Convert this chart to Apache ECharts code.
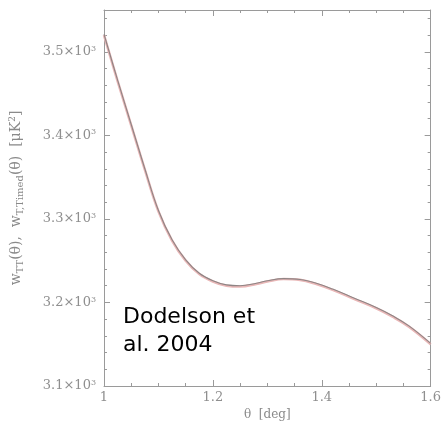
<!DOCTYPE html>
<html>
<head>
<meta charset="utf-8">
<script src="https://cdn.jsdelivr.net/npm/echarts@6/dist/echarts.min.js"></script>
<style>
  html, body { margin: 0; padding: 0; background: #fff; }
  #chart { width: 444px; height: 426px; }
</style>
</head>
<body>
<div id="chart"></div>
<script>
// theta in degrees, correlation in muK^2
var theta = [1.00, 1.025, 1.05, 1.075, 1.10, 1.125, 1.15, 1.175, 1.20, 1.225, 1.25, 1.28, 1.30, 1.33, 1.36, 1.39, 1.42, 1.46, 1.50, 1.53, 1.56, 1.60];
var wTT   = [3521, 3466, 3413, 3360, 3310, 3275, 3251, 3235, 3226, 3221, 3220, 3223, 3226, 3228.5, 3227.5, 3223, 3216, 3205, 3194, 3184, 3172, 3151];
var wTmod = [3520, 3465, 3412, 3359, 3309, 3274, 3250, 3234, 3225, 3220, 3219, 3222, 3225, 3228, 3227, 3222, 3215, 3204, 3193, 3183, 3171, 3150];

var yTicks = [3100, 3200, 3300, 3400, 3500];
var xTicks = [1, 1.2, 1.4, 1.6];

var axisGrey = "#9a9a9a";
var labelFont = "DejaVu Serif";

function pairs(xs, ys) {
  return xs.map(function (x, i) { return [x, ys[i]]; });
}

// bare axis used only for ticks (box frame)
function tickAxis(pos, interval, len, showLine) {
  return {
    type: "value",
    position: pos,
    min: 3100,
    max: 3550,
    interval: interval,
    axisLine: { show: showLine, lineStyle: { color: axisGrey, width: 1 } },
    axisTick: { show: true, inside: true, length: len, lineStyle: { color: axisGrey } },
    axisLabel: { show: false },
    splitLine: { show: false }
  };
}

var chart = echarts.init(document.getElementById("chart"));
var option = {
  animation: false,
  grid: { left: 100, right: 7, top: 10, bottom: 40 },
  xAxis: [
    {
      type: "value",
      position: "bottom",
      min: 1,
      max: 1.6,
      interval: 0.2,
      name: "θ  [deg]",
      nameLocation: "middle",
      nameGap: 22,
      nameTextStyle: { fontFamily: labelFont, fontSize: 12, color: "#8a8a8a" },
      axisLine: { show: true, lineStyle: { color: axisGrey, width: 1 } },
      axisTick: { show: true, inside: true, length: 6, lineStyle: { color: axisGrey } },
      minorTick: { show: true, splitNumber: 4, length: 3, lineStyle: { color: axisGrey } },
      axisLabel: {
        fontFamily: labelFont, fontSize: 13, color: "#8f8f8f", margin: 5,
        formatter: function (v) { return xTicks.indexOf(+v.toFixed(2)) >= 0 ? String(+v.toFixed(1)) : ""; }
      },
      splitLine: { show: false }
    },
    {
      type: "value",
      position: "top",
      min: 1,
      max: 1.6,
      interval: 0.2,
      axisLine: { show: true, lineStyle: { color: axisGrey, width: 1 } },
      axisTick: { show: true, inside: true, length: 6, lineStyle: { color: axisGrey } },
      minorTick: { show: true, splitNumber: 4, length: 3, lineStyle: { color: axisGrey } },
      axisLabel: { show: false },
      splitLine: { show: false }
    }
  ],
  yAxis: [
    {
      type: "value",
      position: "left",
      min: 3100,
      max: 3550,
      interval: 100,
      name: "{n|w}{s|TT}{n|(θ),  w}{s|T,Timed}{n|(θ)  [μK}{p|2}{n|]}",
      nameLocation: "middle",
      nameGap: 79,
      nameTextStyle: {
        rich: {
          n: { fontFamily: labelFont, fontSize: 14, color: "#8a8a8a" },
          s: { fontFamily: labelFont, fontSize: 10, color: "#8a8a8a", verticalAlign: "bottom", padding: [7, 0, 0, 0] },
          p: { fontFamily: labelFont, fontSize: 9, color: "#8a8a8a", verticalAlign: "top" }
        }
      },
      axisLine: { show: true, lineStyle: { color: axisGrey, width: 1 } },
      axisTick: { show: true, inside: true, length: 6, lineStyle: { color: axisGrey } },
      axisLabel: {
        showMaxLabel: false,
        margin: 8,
        formatter: function (v) {
          if (yTicks.indexOf(v) < 0) return "";
          return "{n|" + (v / 1000).toFixed(1) + "×10}{p|3}";
        },
        rich: {
          n: { fontFamily: labelFont, fontSize: 13, color: "#8f8f8f" },
          p: { fontFamily: labelFont, fontSize: 8, color: "#8f8f8f", verticalAlign: "top", padding: [0, 0, 6, 0] }
        }
      },
      splitLine: { show: false }
    },
    tickAxis("left", 20, 3, false),
    tickAxis("right", 20, 3, true),
    tickAxis("right", 100, 6, false)
  ],
  series: [
    {
      name: "w_Timed",
      type: "line",
      xAxisIndex: 0,
      yAxisIndex: 0,
      data: pairs(theta, wTmod),
      smooth: 0.4,
      showSymbol: false,
      lineStyle: { color: "#e9b7b7", width: 2.6 }
    },
    {
      name: "w_TT",
      type: "line",
      xAxisIndex: 0,
      yAxisIndex: 0,
      data: pairs(theta, wTT),
      smooth: 0.4,
      showSymbol: false,
      lineStyle: { color: "#8e8585", width: 1.1 }
    }
  ],
  graphic: [
    {
      type: "text",
      left: 123,
      top: 303,
      style: {
        text: "Dodelson et\nal. 2004",
        fontFamily: "DejaVu Sans",
        fontSize: 22,
        lineHeight: 28,
        fill: "#000"
      }
    }
  ]
};
chart.setOption(option);
</script>
</body>
</html>
